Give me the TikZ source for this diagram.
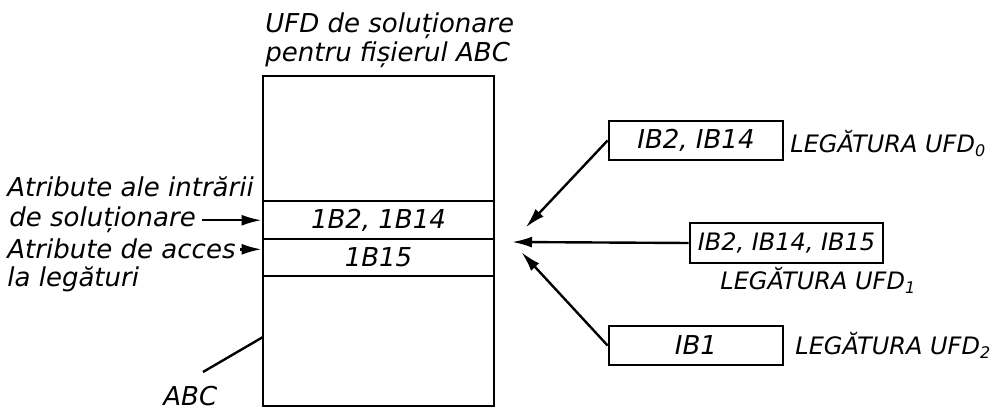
\documentclass[tikz,border=0pt]{standalone}
\usepackage{fontspec}
\setmainfont{DejaVu Sans}
\usetikzlibrary{arrows.meta,calc,positioning}
\tikzset{
  lbl/.style={font=\fontsize{13}{14.5}\selectfont\itshape, inner sep=0pt},
  small/.style={font=\fontsize{12}{13}\selectfont\itshape, inner sep=0pt},
  cellbox/.style={draw, line width=1.4pt, minimum width=115.5pt, inner sep=0pt, lbl},
  linkbox/.style={draw, line width=1.4pt, minimum width=87pt, minimum height=19.5pt, inner sep=0pt, lbl},
  ptr/.style={-{Latex[length=10pt,width=5.5pt]}, line width=1.2pt}
}

\begin{document}
\begin{tikzpicture}[x=0.5pt,y=-0.5pt]
  \useasboundingbox (0,0) rectangle (997,411);
  % directory UFD
  \node[draw, line width=1.4pt, minimum width=115.5pt, minimum height=165pt] (ufd) at (378.5,241) {};
  \node[lbl, anchor=base west, align=left] (title) at (265,62) {UFD de soluționare\\pentru fișierul ABC};
  \node[cellbox, minimum height=19pt] (cell1) at (378.5,220) {1B2, 1B14};
  \node[cellbox, minimum height=18.5pt] (cell2) at (378.5,257.5) {1B15};
  % left labels
  \node[lbl, anchor=base west] (attrA) at (7,197) {Atribute ale intrării};
  \node[lbl, anchor=base west] (attrB) at (9,227) {de soluționare};
  \node[lbl, anchor=base west] (accA) at (7,259) {Atribute de acces};
  \node[lbl, anchor=base west] (accB) at (7,287) {la legături};
  \draw[ptr, shorten <=3pt] (attrB.east) -- (attrB.east -| cell1.west);
  \draw[ptr, shorten <=2pt] (accA.east) -- (accA.east -| cell2.west);
  \node[lbl, anchor=base west] (abc) at (163,406) {ABC};
  \coordinate (abcend) at (203,372);
  \coordinate (abcpt) at (263,337);
  \draw[line width=1.2pt] (abcend) -- (abcpt);
  % links
  \coordinate (hub) at (512,242);
  \node[linkbox] (link0) at (696,140.5) {IB2, IB14};
  \node[linkbox, small, minimum width=96.5pt, minimum height=20pt] (link1) at (786.5,243) {IB2, IB14, IB15};
  \node[linkbox] (link2) at (696,345.5) {IB1};
  \node[small, anchor=base west] (name0) at (790,153) {LEGĂTURA UFD\textsubscript{0}};
  \node[small, anchor=base west] (name1) at (720,290) {LEGĂTURA UFD\textsubscript{1}};
  \node[small, anchor=base west] (name2) at (795,355) {LEGĂTURA UFD\textsubscript{2}};
  \draw[ptr, shorten >=10pt] (link0.west) -- (hub);
  \draw[ptr] (link1.west) -- (hub);
  \draw[ptr, shorten >=7pt] (link2.west) -- (hub);
\end{tikzpicture}
\end{document}
